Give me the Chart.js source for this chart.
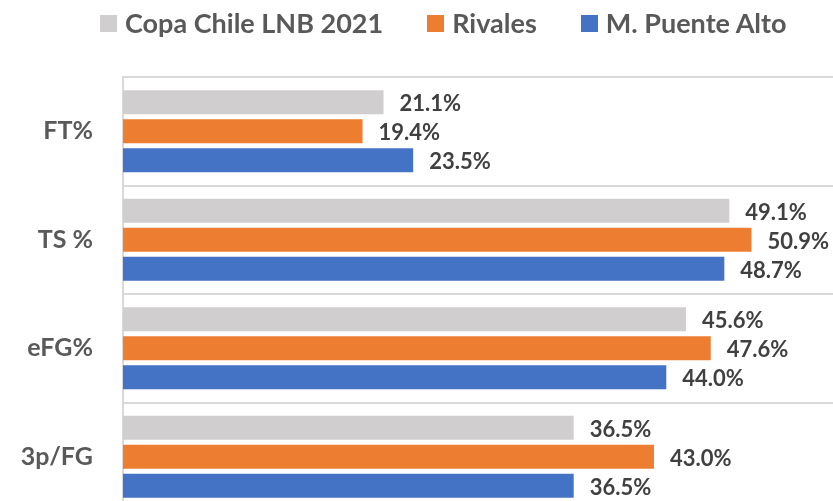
<!DOCTYPE html>
<html>
<head>
<meta charset="utf-8">
<script src="https://cdn.jsdelivr.net/npm/chart.js@4"></script>
<style>
  html, body { margin: 0; padding: 0; background: #fff; overflow: hidden; }
  #wrap { position: relative; width: 833px; height: 520px; }
  #legend { position: absolute; top: 7px; left: 100px; display: flex; align-items: center;
            font: bold 27px Lato, sans-serif; line-height: 32px; color: #595959; white-space: nowrap; }
  #legend .item { display: flex; align-items: center; margin-right: 44px; }
  #legend .box { width: 17px; height: 17px; margin-right: 8px; }
</style>
</head>
<body>
<div id="wrap">
  <div id="legend"></div>
  <canvas id="statsChart" width="833" height="520"></canvas>
</div>
<script>
const categories = ["FT%", "TS %", "eFG%", "3p/FG"];
const seriesNames = ["Copa Chile LNB 2021", "Rivales", "M. Puente Alto"];
const copaValues = [21.1, 49.1, 45.6, 36.5];
const rivalesValues = [19.4, 50.9, 47.6, 43.0];
const puenteAltoValues = [23.5, 48.7, 44.0, 36.5];
const seriesColors = ["#D0CECE", "#ED7D31", "#4472C4"];

// legend en html, construit depuis les series
const legend = document.getElementById("legend");
seriesNames.forEach(function (name, i) {
    const item = document.createElement("div");
    item.className = "item";
    const box = document.createElement("span");
    box.className = "box";
    box.style.background = seriesColors[i];
    const label = document.createElement("span");
    label.textContent = name;
    item.appendChild(box);
    item.appendChild(label);
    legend.appendChild(item);
});

// etiquettes de valeur au bout des barres
const valueLabels = {
    id: "valueLabels",
    afterDatasetsDraw(chart) {
        const ctx = chart.ctx;
        ctx.save();
        ctx.font = "bold 22px Lato";
        ctx.fillStyle = "#404040";
        ctx.textBaseline = "middle";
        chart.data.datasets.forEach(function (ds, i) {
            chart.getDatasetMeta(i).data.forEach(function (bar, j) {
                ctx.fillText(ds.data[j].toFixed(1) + "%", bar.x + 16, bar.y + 2);
            });
        });
        ctx.restore();
    }
};

new Chart("statsChart", {
    type: "bar",
    data: {
        labels: categories,
        datasets: [{
            label: seriesNames[0],
            data: copaValues,
            backgroundColor: seriesColors[0]
        }, {
            label: seriesNames[1],
            data: rivalesValues,
            backgroundColor: seriesColors[1]
        }, {
            label: seriesNames[2],
            data: puenteAltoValues,
            backgroundColor: seriesColors[2]
        }]
    },
    options: {
        indexAxis: "y",
        responsive: false,
        animation: false,
        categoryPercentage: 0.8,
        barPercentage: 0.83,
        layout: {padding: {top: 77, left: 0, right: 0, bottom: 9}},
        plugins: {
            legend: {display: false},
            tooltip: {enabled: false}
        },
        scales: {
            x: {min: 0, max: 57.5, display: false},
            y: {
                grid: {offset: true, color: "#D9D9D9", lineWidth: 2, drawTicks: false},
                border: {color: "#D9D9D9", width: 2},
                ticks: {font: {family: "Lato", size: 25, weight: "bold"}, color: "#595959", padding: 30},
                afterFit: function (scale) {
                    scale.width = 123;
                    scale.paddingTop = 0;
                    scale.paddingBottom = 0;
                }
            }
        }
    },
    plugins: [valueLabels]
});
</script>
</body>
</html>
